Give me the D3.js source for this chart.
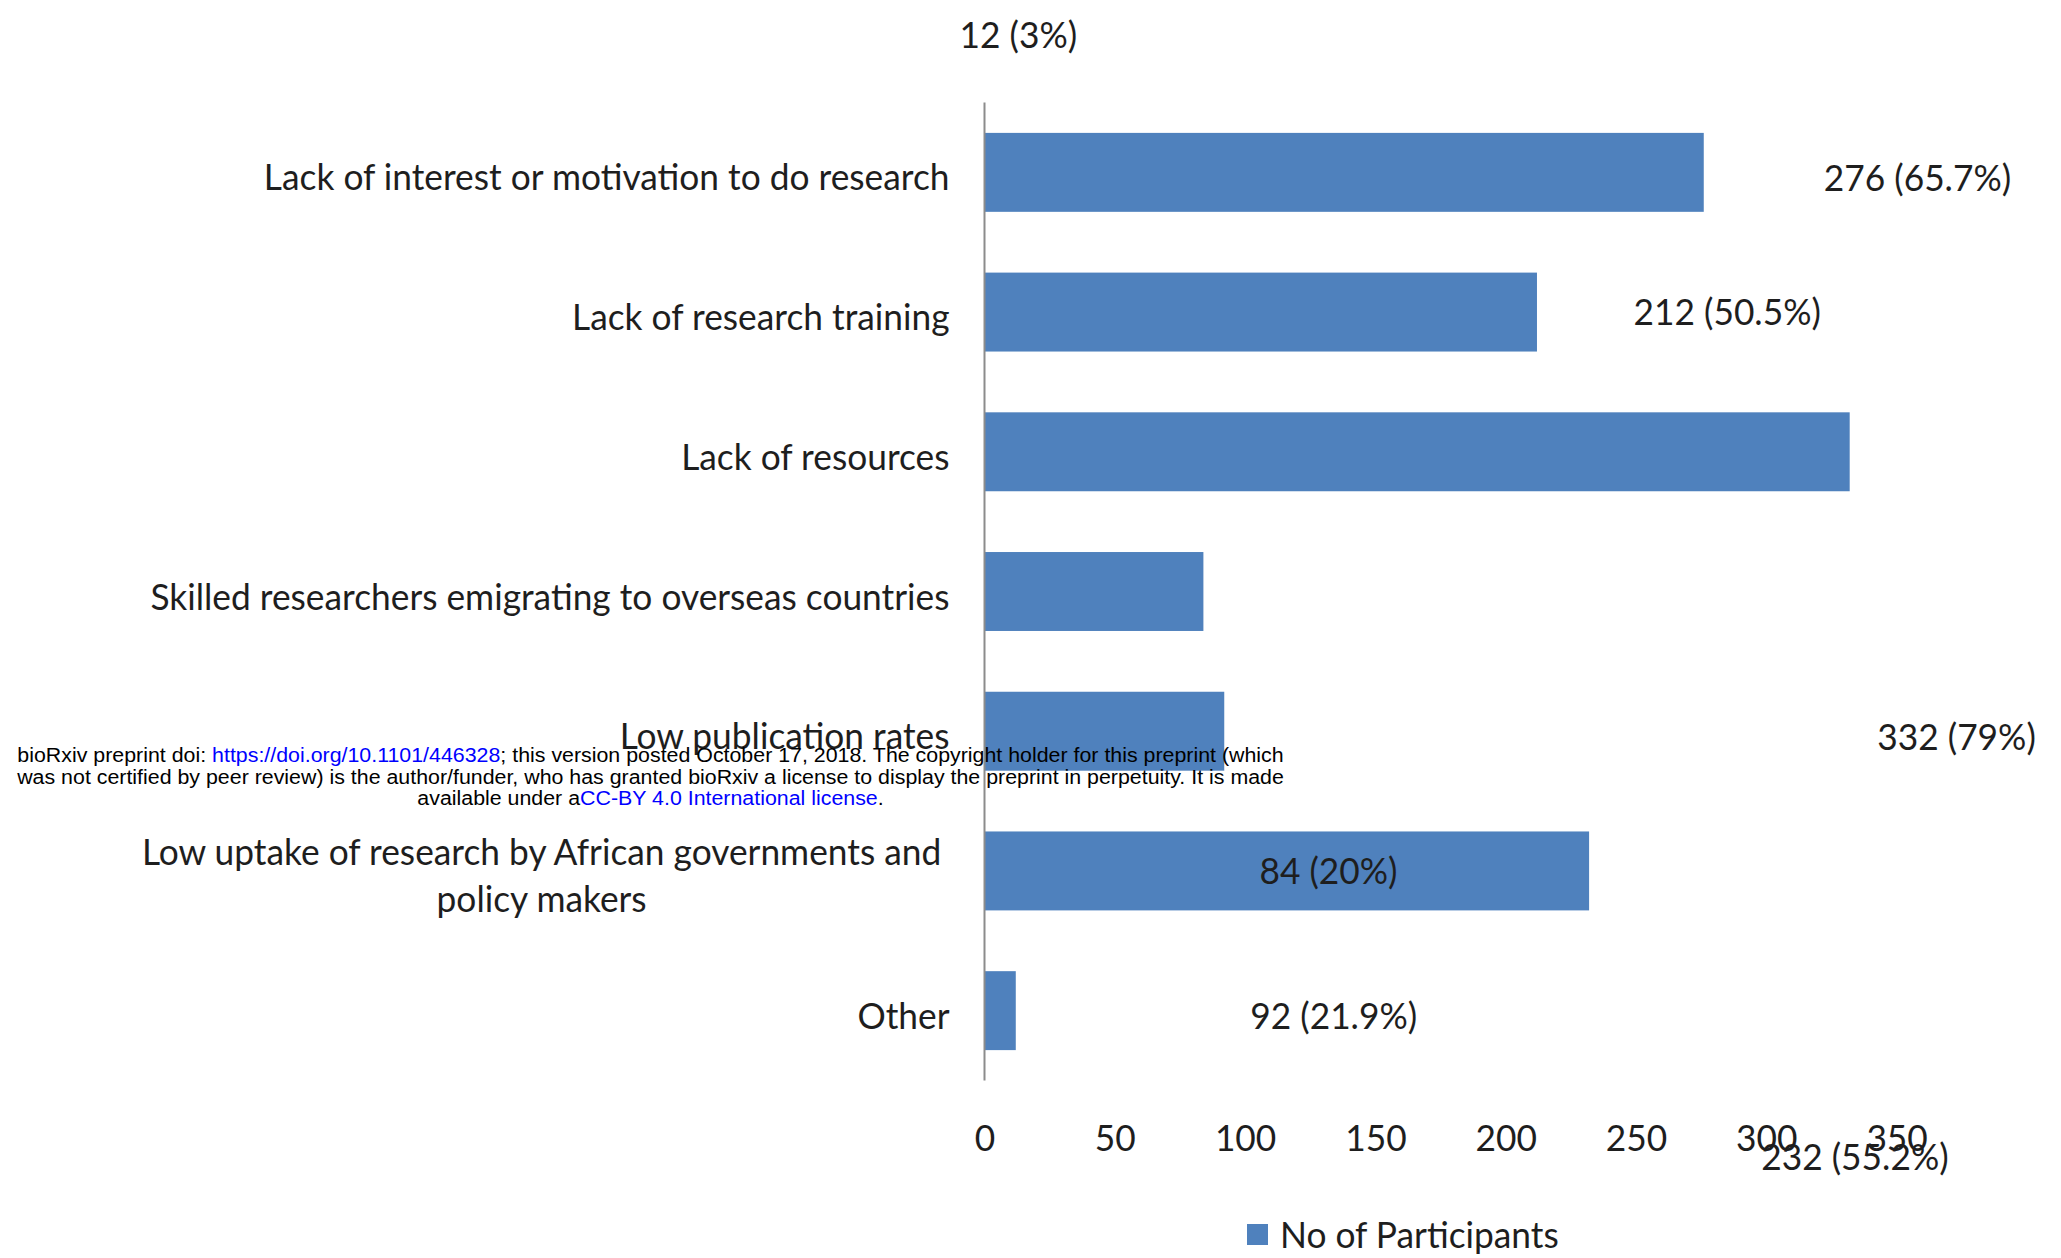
<!DOCTYPE html>
<html><head><meta charset="utf-8">
<script src="https://cdn.jsdelivr.net/npm/d3@7"></script>
<style>html,body{margin:0;padding:0;background:#fff;} svg{display:block;}</style>
</head><body>
<svg id="chart" width="2061" height="1258"></svg>
<script>
// ---- data ----
const categories = [
  "Lack of interest or motivation to do research",
  "Lack of research training",
  "Lack of resources",
  "Skilled researchers emigrating to overseas countries",
  "Low publication rates",
  "Low uptake of research by African governments and policy makers",
  "Other"
];
const participants = [276, 212, 332, 84, 92, 232, 12];
const percents = ["65.7%", "50.5%", "79%", "20%", "21.9%", "55.2%", "3%"];
const xTicks = [0, 50, 100, 150, 200, 250, 300, 350];
const seriesName = "No of Participants";
// where each data label sits (value-axis units, row units) — the source has them displaced
const labelValuePos = [358, 285, 373, 132, 134, 334, 13];
const labelRowPos = [0.04, 1.0, 4.04, 5.0, 6.04, 7.05, -0.98];

const watermark = [
  [["bioRxiv preprint doi: ", "#000"], ["https://doi.org/10.1101/446328", "#0000ff"], ["; this version posted October 17, 2018. The copyright holder for this preprint (which", "#000"]],
  [["was not certified by peer review) is the author/funder, who has granted bioRxiv a license to display the preprint in perpetuity. It is made", "#000"]],
  [["available under a", "#000"], ["CC-BY 4.0 International license", "#0000ff"], [".", "#000"]]
];

// ---- layout ----
const FONT = "Lato, 'Open Sans', sans-serif";
const FS = 37;
const TEXT = "#1e1e1e";
const BAR = "#4f81bd";
const svg = d3.select("#chart");

const x = d3.scaleLinear().domain([0, 350]).range([984.5, 1896.6]);
const y = d3.scaleBand().domain(categories).range([102.5, 1080.5]).paddingInner(0.435).paddingOuter(0.2175);
const rowY = r => y(categories[0]) + y.bandwidth() / 2 + r * y.step();

// measure compression to mimic narrow (Calibri-like) face
const probe = svg.append("text").attr("font-family", FONT).attr("font-size", FS).text(categories[0]);
const k = 686 / probe.node().getComputedTextLength();
probe.remove();
const WMFS = 20;
const wProbe = svg.append("text").attr("font-family", "'Liberation Sans', Arial, sans-serif").attr("font-size", WMFS).text(watermark[0].map(d => d[0]).join(""));
const kw = 1267 / wProbe.node().getComputedTextLength();
wProbe.remove();

function ctext(g, tx, ty, str, anchor) {
  return g.append("text")
    .attr("transform", `translate(${tx},${ty}) scale(${k},1)`)
    .attr("font-family", FONT).attr("font-size", FS).attr("fill", TEXT)
    .attr("text-anchor", anchor).text(str);
}

// bars
svg.append("g").selectAll("rect").data(categories).join("rect")
  .attr("x", x(0)).attr("y", d => y(d))
  .attr("width", (d, i) => x(participants[i]) - x(0))
  .attr("height", y.bandwidth()).attr("fill", BAR);

// vertical category axis line
svg.append("line").attr("x1", x(0)).attr("x2", x(0))
  .attr("y1", y.range()[0]).attr("y2", y.range()[1])
  .attr("stroke", "#8c8c8c").attr("stroke-width", 2);

// category labels
const catG = svg.append("g");
const labelRight = x(0) - 35;
const maxW = 830;
const BASE = 18;
categories.forEach((c, i) => {
  const words = c.split(" ");
  const lines = [];
  let cur = "";
  const t = catG.append("text").attr("font-family", FONT).attr("font-size", FS);
  words.forEach(w => {
    const test = cur ? cur + " " + w : w;
    t.text(test);
    if (t.node().getComputedTextLength() * k > maxW && cur) { lines.push(cur); cur = w; }
    else cur = test;
  });
  lines.push(cur);
  t.remove();
  const cy = y(c) + y.bandwidth() / 2;
  if (lines.length === 1) {
    ctext(catG, labelRight, cy + BASE, lines[0], "end");
  } else {
    const tmp = catG.append("text").attr("font-family", FONT).attr("font-size", FS).text(lines[0]);
    const lw = tmp.node().getComputedTextLength() * k; tmp.remove();
    const cx = labelRight - 8 - lw / 2;
    const lh = 47;
    lines.forEach((ln, j) => ctext(catG, cx, cy + BASE - lh * (lines.length - 1) / 2 + j * lh, ln, "middle"));
  }
});

// x axis tick labels
const axisG = svg.append("g").attr("transform", "translate(0,1151)")
  .call(d3.axisBottom(x).tickValues(xTicks).tickSize(0).tickPadding(0));
axisG.select(".domain").remove();
axisG.selectAll("text").attr("y", 0).attr("dy", 0)
  .attr("font-family", FONT).attr("font-size", FS).attr("fill", TEXT)
  .attr("transform", `scale(${k},1)`);

// data labels
const valG = svg.append("g");
categories.forEach((c, i) => {
  ctext(valG, x(labelValuePos[i]), rowY(labelRowPos[i]) + 13, `${participants[i]} (${percents[i]})`, "middle");
});

// legend
const lg = svg.append("g");
lg.append("rect").attr("x", 1247).attr("y", 1224).attr("width", 21).attr("height", 21).attr("fill", BAR);
ctext(lg, 1280, 1248, seriesName, "start");

// watermark
const wmG = svg.append("g");
const wmY = [762, 783.5, 805];
watermark.forEach((parts, li) => {
  const t = wmG.append("text")
    .attr("transform", `translate(650.5,${wmY[li]}) scale(${kw},1)`)
    .attr("font-family", "'Liberation Sans', Arial, sans-serif").attr("font-size", WMFS)
    .attr("text-anchor", "middle");
  parts.forEach(p => t.append("tspan").attr("fill", p[1]).text(p[0]));
});
</script>
</body></html>
